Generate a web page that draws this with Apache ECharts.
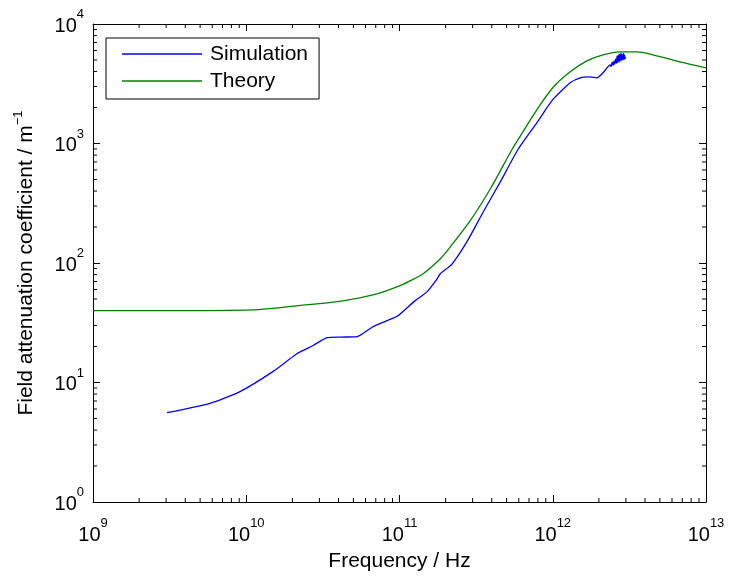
<!DOCTYPE html>
<html>
<head>
<meta charset="utf-8">
<script src="https://cdn.jsdelivr.net/npm/echarts@6/dist/echarts.min.js"></script>
<style>html,body{margin:0;padding:0;background:#fff}#c{width:730px;height:577px}</style>
</head>
<body>
<div id="c"></div>
<script>
// Simulation (blue)
const simFreq = [3.04e9, 5.8e9, 9.1e9, 1.5e10, 2.14e10, 2.73e10, 3.37e10, 4.17e10, 5.28e10, 6.71e10, 8.28e10, 9.77e10,
  1.26e11, 1.51e11, 1.76e11, 1.84e11, 2.2e11, 2.75e11, 3.51e11, 4.53e11, 5.93e11, 7.89e11, 1.0e12, 1.30e12, 1.51e12,
  1.75e12, 1.95e12, 2.13e12, 2.37e12, 2.40e12, 2.44e12, 2.48e12, 2.51e12, 2.54e12, 2.57e12, 2.60e12, 2.63e12, 2.65e12,
  2.68e12, 2.71e12, 2.73e12, 2.75e12, 2.79e12, 2.81e12, 2.83e12, 2.87e12, 2.90e12, 2.92e12, 2.94e12, 2.96e12, 2.99e12];
const simValues = [5.6, 6.7, 8.4, 12.4, 17.4, 20.4, 23.7, 24.0, 24.2, 29.3, 32.9, 36.2,
  48.2, 57.3, 73.6, 81, 98, 150, 266, 473, 891, 1496, 2326, 3223, 3548,
  3616, 3548, 3906, 4550, 4400, 4800, 4500, 4900, 4600, 5100, 4700, 5400, 4750,
  5500, 4800, 5600, 4900, 5700, 4950, 5600, 5000, 5700, 5050, 5500, 5100, 5300];
// Theory (green)
const theoryFreq = [1e9, 3e9, 1.1e10, 2.2e10, 4.28e10, 7.13e10, 1.0e11, 1.17e11, 1.42e11, 1.84e11, 2.14e11, 2.88e11,
  3.9e11, 5.42e11, 6.11e11, 7.89e11, 1.0e12, 1.30e12, 1.67e12, 2.13e12, 2.75e12, 3.55e12, 4.51e12, 6.76e12, 1e13];
const theoryValues = [40, 40, 40.6, 44, 48.2, 55.2, 64.3, 70.8, 81, 108, 136, 224,
  414, 891, 1143, 1920, 2930, 3981, 4920, 5520, 5840, 5840, 5520, 4820, 4300];
// Axis ranges / tick decades
const xDecades = [9, 10, 11, 12, 13];
const yDecades = [0, 1, 2, 3, 4];

const xMinor = [];
for (let i = 0; i < xDecades.length - 1; i++) for (let k = 2; k <= 9; k++) xMinor.push(k * Math.pow(10, xDecades[i]));
const yMinor = [];
for (let i = 0; i < yDecades.length - 1; i++) for (let k = 2; k <= 9; k++) yMinor.push(k * Math.pow(10, yDecades[i]));

const X0 = Math.pow(10, xDecades[0]), X1 = Math.pow(10, xDecades[xDecades.length - 1]);
const Y0 = Math.pow(10, yDecades[0]), Y1 = Math.pow(10, yDecades[yDecades.length - 1]);

const FONT = 'Liberation Sans, Arial, Helvetica, sans-serif';
const richLbl = {
  b: { fontSize: 20, fontFamily: FONT, color: '#000', lineHeight: 22, verticalAlign: 'bottom' },
  s: { fontSize: 13, fontFamily: FONT, color: '#000', lineHeight: 14, verticalAlign: 'bottom', padding: [0, 0, 15, 0] }
};
function fmt(v) { return '{b|10}{s|' + Math.round(Math.log10(v)) + '}'; }

const chart = echarts.init(document.getElementById('c'), null, { renderer: 'canvas' });
const axisLine = { show: true, onZero: false, lineStyle: { color: '#000', width: 1 } };
const tickIn = { show: true, inside: true, length: 7, lineStyle: { color: '#000', width: 1 } };

chart.setOption({
  animation: false,
  backgroundColor: '#fff',
  grid: { left: 93, right: 24, top: 24, bottom: 73, containLabel: false },
  legend: {
    data: ['Simulation', 'Theory'],
    orient: 'vertical',
    left: 106, top: 38,
    icon: 'rect',
    itemWidth: 80, itemHeight: 1.4, itemGap: 5,
    padding: [5, 11, 7, 16],
    borderColor: '#000', borderWidth: 1, backgroundColor: '#fff',
    textStyle: { fontSize: 21, fontFamily: FONT, color: '#000', lineHeight: 22, padding: [0, 0, 0, 3] }
  },
  xAxis: [{
    type: 'log', logBase: 10, min: X0, max: X1, position: 'bottom',
    name: 'Frequency / Hz', nameLocation: 'middle', nameGap: 49,
    nameTextStyle: { fontSize: 21, fontFamily: FONT, color: '#000' },
    axisLine: axisLine, axisTick: tickIn,
    axisLabel: { formatter: fmt, rich: richLbl, margin: 21 },
    splitLine: { show: false }
  }, {
    type: 'log', logBase: 10, min: X0, max: X1, position: 'top',
    axisLine: axisLine, axisTick: tickIn, axisLabel: { show: false }, splitLine: { show: false }
  }],
  yAxis: [{
    type: 'log', logBase: 10, min: Y0, max: Y1, position: 'left',
    name: '{a|Field attenuation coefficient / m}{s|\u22121}', nameLocation: 'middle', nameGap: 56,
    nameTextStyle: { rich: {
      a: { fontSize: 21, fontFamily: FONT, color: '#000', lineHeight: 22, verticalAlign: 'bottom' },
      s: { fontSize: 13, fontFamily: FONT, color: '#000', lineHeight: 14, verticalAlign: 'bottom', padding: [0, 0, 12, 0] } } },
    axisLine: axisLine, axisTick: tickIn,
    axisLabel: { formatter: fmt, rich: richLbl, margin: 9, padding: [2, 0, 0, 0] },
    splitLine: { show: false }
  }, {
    type: 'log', logBase: 10, min: Y0, max: Y1, position: 'right',
    axisLine: axisLine, axisTick: tickIn, axisLabel: { show: false }, splitLine: { show: false }
  }],
  series: [{
    name: 'Simulation', type: 'line', symbol: 'none', showSymbol: false,
    data: simFreq.map((f, i) => [f, simValues[i]]),
    lineStyle: { color: '#0000ff', width: 1.3 }, itemStyle: { color: '#0000ff' },
    smooth: 0.2, z: 3
  }, {
    name: 'Theory', type: 'line', symbol: 'none', showSymbol: false,
    data: theoryFreq.map((f, i) => [f, theoryValues[i]]),
    lineStyle: { color: '#008000', width: 1.3 }, itemStyle: { color: '#008000' },
    smooth: 0.3, z: 2
  }, {
    type: 'custom', silent: true, clip: false,
    data: xMinor.map(v => [v, Y0]),
    renderItem: function (params, api) {
      const v = api.value(0);
      const b = api.coord([v, Y0]), t = api.coord([v, Y1]);
      const st = { stroke: '#000', lineWidth: 1 };
      return { type: 'group', children: [
        { type: 'line', shape: { x1: b[0], y1: b[1], x2: b[0], y2: b[1] - 4 }, style: st },
        { type: 'line', shape: { x1: t[0], y1: t[1], x2: t[0], y2: t[1] + 4 }, style: st }
      ] };
    }
  }, {
    type: 'custom', silent: true, clip: false,
    data: yMinor.map(v => [X0, v]),
    renderItem: function (params, api) {
      const v = api.value(1);
      const l = api.coord([X0, v]), r = api.coord([X1, v]);
      const st = { stroke: '#000', lineWidth: 1 };
      return { type: 'group', children: [
        { type: 'line', shape: { x1: l[0], y1: l[1], x2: l[0] + 4, y2: l[1] }, style: st },
        { type: 'line', shape: { x1: r[0], y1: r[1], x2: r[0] - 4, y2: r[1] }, style: st }
      ] };
    }
  }]
});
</script>
</body>
</html>
